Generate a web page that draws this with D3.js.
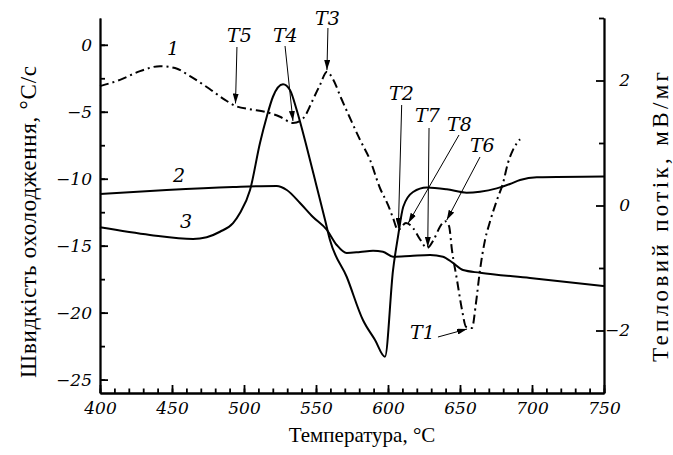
<!DOCTYPE html>
<meta charset="utf-8">
<style>
body { margin: 0; background: #fff; }
svg { display: block; }
.axis path, .axis line { stroke: #000; stroke-width: 1.8; }
.axis text { font: italic 17px "DejaVu Serif", serif; fill: #000; }
.title { font: 21px "Liberation Serif", serif; fill: #000; }
.vtitle { font: 23px "Liberation Serif", serif; fill: #000; }
.lbl { font: italic 19px "DejaVu Serif", serif; fill: #000; }
.curve { fill: none; stroke: #000; stroke-width: 2; }
.arrow { stroke: #000; stroke-width: 1; }
</style>
<svg width="673" height="455"></svg>
<script src="https://d3js.org/d3.v7.min.js"></script>
<script>

// curve 1 (dash-dot), heat flow, right axis: temperature, mV/mg
let temp1 = [400, 413.9, 427.8, 441.7, 452.1, 462.5, 476.4, 486.8, 494.4, 504.2, 514.6, 525.0, 534.0, 538.9, 543.1, 547.2, 552.8, 557.6, 561.8, 567.4, 573.6, 580.6, 587.5, 594.4, 600.0, 603.5, 606.9, 612.5, 617.4, 622.2, 627.1, 631.9, 636.1, 639.6, 642.4, 644.4, 647.9, 651.4, 654.2, 658.3, 661.1, 663.9, 667.4, 670.8, 675.7, 679.9, 683.3, 686.8, 691.7];
let flow1 = [1.91, 2.01, 2.15, 2.23, 2.20, 2.07, 1.86, 1.69, 1.59, 1.54, 1.50, 1.42, 1.32, 1.35, 1.46, 1.66, 1.93, 2.14, 2.02, 1.72, 1.40, 1.05, 0.73, 0.28, 0.01, -0.20, -0.39, -0.28, -0.36, -0.54, -0.68, -0.54, -0.34, -0.25, -0.33, -0.71, -1.19, -1.67, -1.94, -1.96, -1.56, -1.03, -0.55, -0.26, 0.09, 0.36, 0.68, 0.89, 1.06];

// curve 2, cooling rate, left axis
let temp2 = [400, 446.3, 492.4, 522.7, 529.7, 538.9, 547.9, 557.6, 564.4, 571.3, 580.6, 589.6, 596.5, 603.5, 615.3, 629.2, 638.2, 645.1, 652.1, 663.9, 698.6, 750];
let rate2 = [-11.14, -10.84, -10.62, -10.54, -10.84, -11.81, -12.86, -13.83, -14.95, -15.55, -15.47, -15.37, -15.45, -15.82, -15.77, -15.70, -15.82, -16.29, -16.82, -17.02, -17.41, -18.01];

// curve 3, cooling rate, left axis
let temp3 = [400, 434.7, 464.6, 474.1, 483.3, 492.4, 497.2, 504.2, 511.1, 515.8, 520.1, 527.1, 531.9, 536.6, 543.5, 550.5, 556.3, 559.7, 571.3, 582.6, 591.0, 597.9, 603.5, 607.0, 610.6, 617.4, 626.9, 640.8, 654.6, 663.9, 675.5, 684.7, 691.7, 703.3, 750];
let rate3 = [-13.63, -14.20, -14.50, -14.37, -13.96, -13.31, -12.56, -10.84, -7.33, -5.37, -3.88, -2.95, -3.38, -4.87, -7.61, -10.60, -13.08, -14.58, -17.32, -20.55, -22.04, -23.29, -16.82, -14.28, -12.09, -10.99, -10.66, -10.79, -11.04, -10.97, -10.72, -10.39, -10.10, -9.89, -9.83];

let xTicks = [400, 450, 500, 550, 600, 650, 700, 750];
let leftTicks = [0, -5, -10, -15, -20, -25];
let rightTicks = [2, 0, -2];

// annotations in data units (temperature, right axis value)
let markNames = ["T5", "T4", "T3", "T2", "T7", "T8", "T6", "T1"];
let markText = [[488.2, 2.616], [520.1, 2.616], [549.3, 2.888], [600.7, 1.688], [618.8, 1.336], [641.0, 1.192], [656.9, 0.856], [615.3, -2.136]];
let markFrom = [[495.1, 2.536], [528.5, 2.552], [558.3, 2.84], [609.5, 1.608], [628.5, 1.24], [649.3, 1.128], [663.9, 0.776], [634.7, -2.104]];
let markTo = [[494.1, 1.632], [534.0, 1.352], [557.6, 2.168], [607.2, -0.36], [627.6, -0.664], [614.1, -0.28], [640.8, -0.232], [654.9, -1.976]];
let curveNames = ["1", "2", "3"];
let curveText = [[446.5, 2.408], [450.7, 0.376], [455.6, -0.36]];

let svg = d3.select("svg");
let x = d3.scaleLinear().domain([400, 750]).range([100, 604]);
let yL = d3.scaleLinear().domain([-26, 2]).range([393, 18]);
let yR = d3.scaleLinear().domain([-3, 3]).range([393, 18]);

svg.append("defs").append("marker")
	.attr("id", "head")
	.attr("markerUnits", "userSpaceOnUse")
	.attr("markerWidth", 10).attr("markerHeight", 6)
	.attr("refX", 10).attr("refY", 3)
	.attr("orient", "auto")
	.append("path").attr("d", "M0,0L10,3L0,6z").attr("fill", "#000");

// minor ticks
svg.append("g").attr("class", "axis").attr("transform", "translate(0,393)")
	.call(d3.axisBottom(x).tickValues(d3.range(400, 751, 10)).tickSize(-4.5).tickSizeOuter(0).tickFormat(""));
svg.append("g").attr("class", "axis").attr("transform", "translate(100,0)")
	.call(d3.axisLeft(yL).tickValues(d3.range(-25, 0.1, 2.5)).tickSize(-5).tickSizeOuter(0).tickFormat(""));
svg.append("g").attr("class", "axis").attr("transform", "translate(604,0)")
	.call(d3.axisRight(yR).tickValues([3, 1, -1]).tickSize(-5).tickSizeOuter(0).tickFormat(""));

// major ticks
svg.append("g").attr("class", "axis").attr("transform", "translate(0,393)")
	.call(d3.axisBottom(x).tickValues(xTicks).tickSize(-8).tickSizeOuter(0).tickPadding(9));
svg.append("g").attr("class", "axis").attr("transform", "translate(100,0)")
	.call(d3.axisLeft(yL).tickValues(leftTicks).tickSize(-8).tickSizeOuter(0).tickPadding(8));
svg.append("g").attr("class", "axis").attr("transform", "translate(604,0)")
	.call(d3.axisRight(yR).tickValues(rightTicks).tickFormat(d3.format("d")).tickSize(-8).tickSizeOuter(0))
	.selectAll("text").attr("text-anchor", "end").attr("x", 26);

let line = (xs, ys, ysc) => d3.line()
	.x((d, i) => x(xs[i]))
	.y((d, i) => ysc(ys[i]))
	.curve(d3.curveMonotoneX)(xs);

svg.append("path").attr("class", "curve").attr("d", line(temp2, rate2, yL));
svg.append("path").attr("class", "curve").attr("d", line(temp3, rate3, yL));
svg.append("path").attr("class", "curve").attr("stroke-dasharray", "9,4,2,4")
	.attr("d", line(temp1, flow1, yR));

// arrows and labels
markNames.forEach((name, i) => {
	svg.append("line").attr("class", "arrow")
		.attr("x1", x(markFrom[i][0])).attr("y1", yR(markFrom[i][1]))
		.attr("x2", x(markTo[i][0])).attr("y2", yR(markTo[i][1]))
		.attr("marker-end", "url(#head)");
	svg.append("text").attr("class", "lbl")
		.attr("x", x(markText[i][0])).attr("y", yR(markText[i][1]))
		.text(name);
});
curveNames.forEach((name, i) => {
	svg.append("text").attr("class", "lbl")
		.attr("x", x(curveText[i][0])).attr("y", yR(curveText[i][1]))
		.text(name);
});

// axis titles
svg.append("text").attr("class", "title")
	.attr("x", 362).attr("y", 442).attr("text-anchor", "middle")
	.text("Температура, °C");
svg.append("text").attr("class", "vtitle")
	.attr("transform", "translate(36,222) rotate(-90)").attr("text-anchor", "middle")
	.attr("textLength", 312).attr("lengthAdjust", "spacing")
	.text("Швидкість охолодження, °С/с");
svg.append("text").attr("class", "vtitle")
	.attr("transform", "translate(668,217) rotate(-90)").attr("text-anchor", "middle")
	.attr("textLength", 290).attr("lengthAdjust", "spacing")
	.text("Тепловий потік, мВ/мг");

</script>
